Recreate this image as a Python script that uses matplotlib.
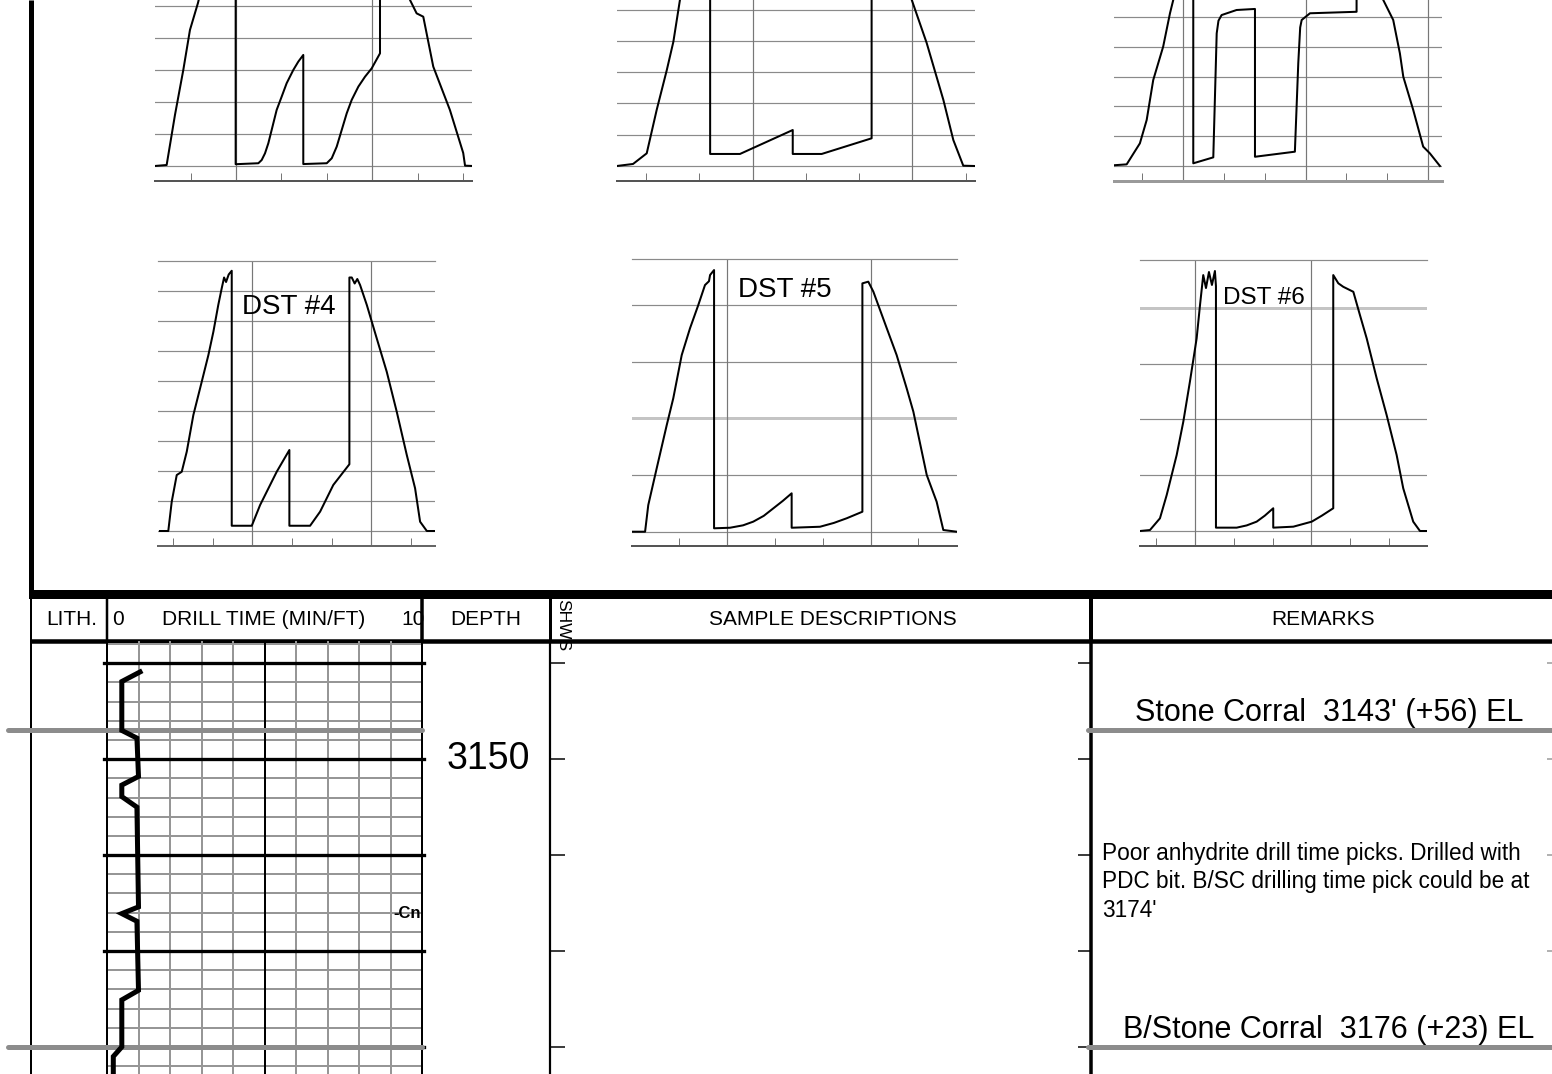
import matplotlib
matplotlib.use("Agg")
import numpy as np
import matplotlib.pyplot as plt
from matplotlib.patches import Rectangle

# ---------------- DATA ----------------
# DST pressure charts: time (min) vs pressure (psi)
dst1_time = [6.4, 14.1, 19.6, 25.1, 29.5, 34.8, 42, 50, 57, 59.7, 59.7,
             74.7, 76.9, 79.1, 81.3, 83.5, 86.8, 90.1, 93.4, 97.8, 101.1, 104.4,
             104.4, 119.9, 123.2, 126.5, 129.8, 133.1, 136.4, 140.8, 145.2, 149.6, 155.1,
             155.1, 163, 170, 174.9, 179.3, 183.7, 190.3, 201.3, 210.1, 211.3, 215.9]
dst1_psi = [0, 6, 319, 600, 850, 1019, 1300, 1480, 1520, 1530, 11,
            17, 37, 79, 142, 225, 350, 433, 517, 600, 652, 694,
            12, 17, 48, 121, 225, 329, 413, 496, 558, 610, 704,
            1500, 1480, 1300, 1038, 954, 933, 621, 350, 81, 2, 0]

dst2_time = [13.5, 22.7, 30.4, 36.0, 41.7, 45.4, 49.1, 55, 62, 66.1, 66.1, 82.9, 112.6, 112.6,
             128.9, 157.0, 157.0, 165, 175, 179.6, 188.0, 197.4, 203.0, 208.6, 215.2]
dst2_psi = [0, 13, 81, 358, 613, 794, 1061, 1400, 1540, 1560, 77, 77, 230, 77,
            77, 177, 1540, 1530, 1300, 1061, 786, 422, 166, 2, 0]

dst3_time = [9.3, 18.6, 28.3, 33.3, 38.1, 45.4, 50.4, 52.8, 56, 60, 67.5, 67.5, 82.2, 84.7, 86.0,
             88.3, 99.3, 112.8, 112.8, 142.1, 144.6, 146.0, 147.1, 153.2, 187.4, 187.4, 195, 202,
             207.0, 214.3, 219.2, 221.7, 229.0, 236.3, 241.2, 248.6]
dst3_psi = [5, 11, 152, 309, 577, 801, 1025, 1114, 1300, 1380, 1400, 18, 58, 890, 975,
            1013, 1047, 1054, 62, 96, 691, 930, 980, 1025, 1035, 1400, 1420, 1300,
            1114, 980, 756, 599, 376, 130, 85, 0]

dst4_time = [19.9, 26.2, 28.8, 32.6, 36.4, 40.2, 45.2, 50.3, 56.6, 60.4, 64.1, 66.7, 68.5, 70.0,
             72.0, 74.3, 74.3, 89.5, 95.8, 108.4, 118.0, 118.0, 133.7, 141.3, 151.3, 163.5, 163.5,
             165.3, 167.5, 169.5, 171.6, 176.7, 184.2, 191.8, 199.4, 207.0, 213.3, 217.1, 222.2, 228.4]
dst4_psi = [0, 0, 195, 373, 395, 529, 773, 951, 1173, 1329, 1507, 1618, 1690, 1660,
            1710, 1735, 35, 35, 173, 395, 540, 35, 35, 129, 307, 445, 1690,
            1690, 1650, 1680, 1640, 1507, 1285, 1062, 795, 507, 285, 62, 0, 0]

dst5_time = [0.1, 8.5, 10.5, 15.8, 22.1, 26.2, 31.5, 36.7, 41.9, 46.1, 48.6, 49.3, 51.8, 51.8,
             61.8, 70.0, 76.4, 83.0, 89.0, 95.0, 100.5, 100.5, 118.3, 127.0, 135.1, 144.9, 144.9,
             148.6, 151.8, 160.2, 166.4, 172.7, 176.9, 185.3, 191.5, 195.7, 204.1]
dst5_psi = [0, 0, 188, 448, 753, 942, 1247, 1436, 1600, 1741, 1768, 1812, 1847, 24,
            28, 45, 71, 112, 165, 218, 271, 28, 35, 62, 95, 141, 1753,
            1765, 1694, 1436, 1247, 1012, 847, 400, 212, 12, 0]

dst6_time = [17.7, 25.4, 33.1, 38.3, 46.0, 51.1, 56.2, 61.4, 64.0, 66.5, 68.6, 70.9, 73.2, 75.5,
             76.3, 76.3, 92.3, 100.0, 107.7, 114.0, 120.5, 120.5, 136.0, 150.2, 158.0, 166.8, 166.8,
             170.7, 174.5, 182.3, 187.4, 192.6, 200.3, 208.0, 215.7, 220.8, 228.5, 233.7, 238.9]
dst6_psi = [0, 7, 91, 258, 545, 783, 1070, 1381, 1620, 1835, 1742, 1857, 1764, 1864,
            1756, 24, 24, 40, 67, 110, 163, 24, 31, 67, 110, 163, 1835,
            1776, 1751, 1715, 1548, 1381, 1095, 831, 545, 306, 67, 0, 0]

dst_labels = ["", "", "", "DST #4", "DST #5", "DST #6"]
dst_label_time = [None, None, None, 81.9, 67.0, 81.9]
dst_label_psi = [None, None, None, 1495, 1706, 1670]

# Drill time log
drill_depth = [3140.9, 3141.9, 3147.0, 3147.8, 3151.8, 3152.7, 3153.9, 3155.0, 3165.4, 3166.1,
               3166.9, 3174.1, 3175.1, 3180.0, 3181.0, 3184.0]
drill_minft = [1.05, 0.47, 0.47, 0.95, 1.0, 0.47, 0.47, 0.95, 1.0, 0.47,
               0.95, 1.0, 0.47, 0.47, 0.2, 0.2]
connection_depth = 3166.1

formation_names = ["Stone Corral  3143' (+56) EL", "B/Stone Corral  3176 (+23) EL"]
formation_depths = [3147.0, 3180.0]
remark_text = ("Poor anhydrite drill time picks. Drilled with\n"
               "PDC bit. B/SC drilling time pick could be at\n3174'")
remark_depth = 3162.8

header_labels = ["LITH.", "DRILL TIME (MIN/FT)", "DEPTH", "SAMPLE DESCRIPTIONS", "REMARKS"]

# ---------------- FIGURE ----------------
W, H = 1552, 1074
PT = 0.72  # points per pixel at dpi 100
fig = plt.figure(figsize=(W / 100, H / 100), dpi=100)
plt.rcParams['font.family'] = ['Liberation Sans', 'DejaVu Sans']


def box(x0, x1, y0, y1):
    return [x0 / W, 1 - y1 / H, (x1 - x0) / W, (y1 - y0) / H]


# frame axes in pixel units
axf = fig.add_axes([0, 0, 1, 1])
axf.set_xlim(0, W)
axf.set_ylim(H, 0)
axf.axis('off')
axf.plot([31, 31], [0, 596], color='k', lw=5 * PT, solid_capstyle='butt')
axf.add_patch(Rectangle((28.5, 590), W - 28.5, 9, color='k', lw=0))
for x, lw in [(31, 2), (107, 2.5), (422, 3.5), (550, 3), (1091, 4)]:
    axf.plot([x, x], [598, 641], color='k', lw=lw * PT, solid_capstyle='butt')
axf.plot([31, W], [641, 641], color='k', lw=4.5 * PT, solid_capstyle='butt')
axf.plot([31, 31], [641, H], color='k', lw=2 * PT)
axf.plot([550, 550], [641, H], color='k', lw=2.2 * PT)
axf.plot([1091, 1091], [641, H], color='k', lw=3.5 * PT)

hdr_y = 619.5
axf.text(72, hdr_y, header_labels[0], ha='center', va='center', fontsize=15)
axf.text(118, hdr_y, "0", ha='center', va='center', fontsize=15)
axf.text(264, hdr_y, header_labels[1], ha='center', va='center', fontsize=15)
axf.text(425, hdr_y, "10", ha='right', va='center', fontsize=15)
axf.text(486, hdr_y, header_labels[2], ha='center', va='center', fontsize=15)
axf.text(563, 625, "SHWS", ha='center', va='center', fontsize=12.5, rotation=-90)
axf.text(833, hdr_y, header_labels[3], ha='center', va='center', fontsize=15)
axf.text(1323, hdr_y, header_labels[4], ha='center', va='center', fontsize=15)

# ---------------- DST charts ----------------
charts = [
    dict(t=dst1_time, p=dst1_psi, px=(155, 472, -90, 181), xlim=(6.4, 215.9), ylim=(-94, 1600),
         hgrid=list(range(0, 1600, 200)), special=[], ticks=list(range(30, 211, 30)),
         vgrid=[60, 150], spine=('#555555', 2), top=False),
    dict(t=dst2_time, p=dst2_psi, px=(616.7, 975, -84.4, 181), xlim=(13.5, 215.2), ylim=(-95.8, 1600),
         hgrid=list(range(0, 1600, 200)), special=[], ticks=list(range(30, 211, 30)),
         vgrid=[90, 180], spine=('#555555', 2), top=False),
    dict(t=dst3_time, p=dst3_psi, px=(1114, 1441.7, -72.4, 181), xlim=(9.3, 249.9), ylim=(-100.7, 1600),
         hgrid=list(range(0, 1600, 200)), special=[], ticks=list(range(30, 241, 30)),
         vgrid=[60, 150, 240], spine=('#9a9a9a', 3), top=False),
    dict(t=dst4_time, p=dst4_psi, px=(158, 435, 261, 545.7), xlim=(18.4, 228.4), ylim=(-98, 1800),
         hgrid=list(range(0, 1800, 200)), special=[], ticks=list(range(30, 211, 30)),
         vgrid=[90, 180], spine=('#666666', 2), top=True),
    dict(t=dst5_time, p=dst5_psi, px=(631.7, 956.7, 259, 545.7), xlim=(0.1, 204.1), ylim=(-98.8, 1925),
         hgrid=[0, 400, 1200, 1600], special=[800], ticks=list(range(30, 181, 30)),
         vgrid=[60, 150], spine=('#555555', 2), top=True),
    dict(t=dst6_time, p=dst6_psi, px=(1140, 1426.7, 260, 545.7), xlim=(17.7, 238.9), ylim=(-105.4, 1943),
         hgrid=[0, 400, 800, 1200], special=[1600], ticks=list(range(30, 211, 30)),
         vgrid=[60, 150], spine=('#555555', 2), top=True),
]

for i, c in enumerate(charts):
    ax = fig.add_axes(box(*c['px']))
    ax.set_xlim(*c['xlim'])
    ax.set_ylim(*c['ylim'])
    ax.patch.set_alpha(0)
    for s in ['left', 'right']:
        ax.spines[s].set_visible(False)
    ax.spines['top'].set_visible(c['top'])
    ax.spines['top'].set_color('#8a8a8a')
    ax.spines['top'].set_linewidth(1.2 * PT)
    ax.spines['bottom'].set_color(c['spine'][0])
    ax.spines['bottom'].set_linewidth(c['spine'][1] * PT)
    for g in c['hgrid']:
        ax.axhline(g, color='#8a8a8a', lw=1.2 * PT, zorder=1)
    for g in c['special']:
        ax.axhline(g, color='#c4c4c4', lw=3 * PT, zorder=1)
    for g in c['vgrid']:
        ax.axvline(g, color='#777777', lw=1.2 * PT, zorder=1)
    ax.set_xticks(c['ticks'])
    ax.set_yticks([])
    ax.tick_params(axis='x', direction='in', length=5.5, width=1 * PT, color='#777777',
                   labelbottom=False)
    ax.plot(c['t'], c['p'], color='k', lw=1.45, zorder=3, solid_joinstyle='round')
    if dst_labels[i]:
        fs = 17.5 if i == 5 else 20
        ax.text(dst_label_time[i], dst_label_psi[i], dst_labels[i], ha='left', va='center',
                fontsize=fs, zorder=4)

# ---------------- Log section ----------------
PX_PER_FT = 9.59
d_top = 3150 + (641 - 759.2) / PX_PER_FT
d_bot = 3150 + (H - 759.2) / PX_PER_FT

axl = fig.add_axes(box(0, W, 641, H))
axl.set_xlim(0, W)
axl.set_ylim(d_bot, d_top)
axl.axis('off')

depth_ticks = np.arange(np.ceil(d_top / 10) * 10, d_bot, 10)
axl.hlines(depth_ticks, 550, 565, color='k', lw=1.5 * PT)
axl.hlines(depth_ticks, 1078, 1091, color='k', lw=1.5 * PT)
axl.hlines(depth_ticks, 1547, 1552, color='#999999', lw=1.5 * PT)
for d in depth_ticks:
    if d % 50 == 0:
        axl.text(488, d, f"{int(d)}", ha='center', va='center', fontsize=27)

# remarks
axl.hlines(formation_depths, 1088, W + 5, color='#8c8c8c', lw=5 * PT, capstyle='round')
for name, d in zip(formation_names, formation_depths):
    axl.text(1329, d - 1.8, name, ha='center', va='center', fontsize=22)
axl.text(1102, remark_depth, remark_text, ha='left', va='center', fontsize=16.3,
         linespacing=1.33)

# drill time track
axd = fig.add_axes(box(107, 422, 641, H))
axd.set_xlim(0, 10)
axd.set_ylim(d_bot, d_top)
axd.patch.set_alpha(0)
axd.set_xticks([])
axd.set_yticks([])
for s in ['top', 'bottom']:
    axd.spines[s].set_visible(False)
for s in ['left', 'right']:
    axd.spines[s].set_color('k')
    axd.spines[s].set_linewidth(2 * PT)
for v in range(1, 10):
    if v == 5:
        axd.axvline(v, color='k', lw=2 * PT, zorder=2)
    else:
        axd.axvline(v, color='#969696', lw=2 * PT, zorder=1)
for d in np.arange(np.ceil(d_top / 2) * 2, d_bot, 2):
    if d % 10 != 0:
        axd.axhline(d, color='#969696', lw=2 * PT, zorder=1)
for d in depth_ticks:
    axd.axhline(d, xmin=-0.01, xmax=1.006, color='k', lw=3.3 * PT, zorder=2, clip_on=False)
axd.hlines(formation_depths, -3.14, 10.0, color='#8c8c8c', lw=5 * PT, capstyle='round',
           zorder=3, clip_on=False)
axd.plot(drill_minft, drill_depth, color='k', lw=5 * PT, zorder=4, solid_joinstyle='miter')
axd.text(9.98, connection_depth, "-Cn", ha='right', va='center', fontsize=12, weight='bold',
         zorder=5)

fig.savefig("out.png", dpi=100)
